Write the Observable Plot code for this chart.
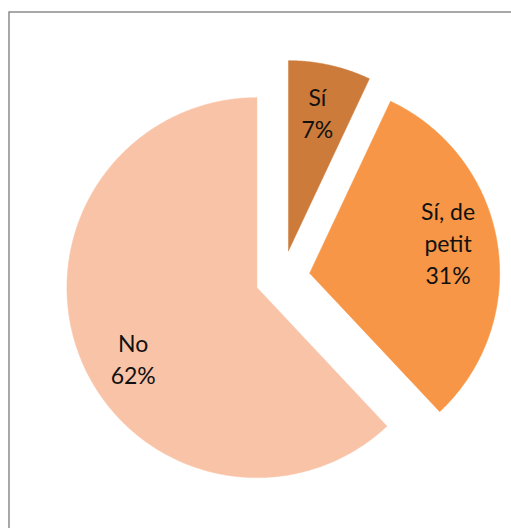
<!DOCTYPE html>
<html>
<head>
<meta charset="utf-8">
<script src="https://cdn.jsdelivr.net/npm/d3@7"></script>
<script src="https://cdn.jsdelivr.net/npm/@observablehq/plot@0.6"></script>
<style>
  html, body { margin: 0; padding: 0; background: #fff; }
  #chart svg { display: block; }
</style>
</head>
<body>
<div id="chart"></div>
<script>
// Data
const categories = ["Sí", "Sí, de petit", "No"];
const values = [7, 31, 62];
const labelLines = ["Sí\n7%", "Sí, de\npetit\n31%", "No\n62%"];
const colors = ["#CC7B3B", "#F79646", "#F9C3A7"];

// Geometry (in pixel-like units; pie centered at 0,0)
const R = 190;
const explode = 27.5;
const labelR = 142;
const labelFrac = 0.465;

const arcs = d3.pie().sort(null).value(d => d)(values);

const marks = [];
marks.push(Plot.frame({stroke: "#8c8c8c", strokeWidth: 1.5, insetLeft: 8.5, insetTop: 11.5, insetRight: -20, insetBottom: -20}));

const labelData = [];
arcs.forEach((a, i) => {
  const mid = (a.startAngle + a.endAngle) / 2;
  const ox = explode * Math.sin(mid), oy = -explode * Math.cos(mid);
  const pts = [{x: ox, y: oy}];
  const n = Math.max(8, Math.ceil((a.endAngle - a.startAngle) / (Math.PI / 360)));
  for (let k = 0; k <= n; k++) {
    const t = a.startAngle + (a.endAngle - a.startAngle) * k / n;
    pts.push({x: ox + R * Math.sin(t), y: oy - R * Math.cos(t)});
  }
  pts.push({x: ox, y: oy});
  marks.push(Plot.line(pts, {x: "x", y: "y", fill: colors[i], stroke: colors[i], strokeWidth: 0.5, curve: "linear"}));
  const la = a.startAngle + labelFrac * (a.endAngle - a.startAngle);
  labelData.push({x: ox + labelR * Math.sin(la), y: oy - labelR * Math.cos(la), text: labelLines[i]});
});

marks.push(Plot.text(labelData, {
  x: "x", y: "y", text: "text",
  fontSize: 23, lineHeight: 1.4, fontFamily: "Lato", fill: "#111"
}));

const chart = Plot.plot({
  width: 511,
  height: 528,
  margin: 0,
  x: {domain: [-282, 229], axis: null},
  y: {domain: [-277, 251], range: [0, 528], axis: null},
  style: {background: "white"},
  marks
});
document.getElementById("chart").append(chart);
</script>
</body>
</html>
